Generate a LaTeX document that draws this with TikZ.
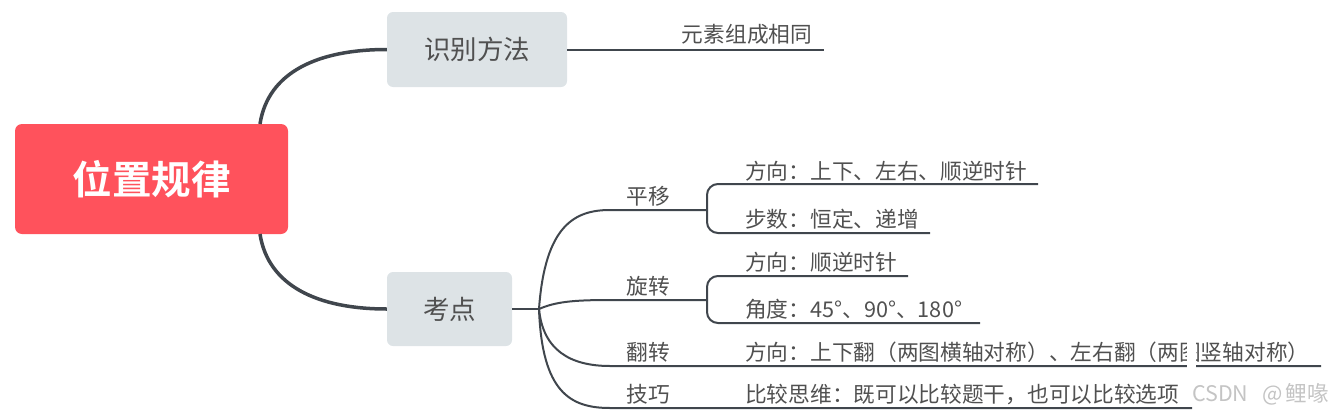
\documentclass[tikz,border=0pt]{standalone}
\usepackage{fontspec}
\setmainfont{Noto Sans CJK SC}[BoldFont={Noto Sans CJK SC Bold}]
\definecolor{rootred}{HTML}{FF525C}
\definecolor{boxgray}{HTML}{DDE3E6}
\definecolor{linegray}{HTML}{40464D}
\definecolor{txtgray}{HTML}{505050}
\definecolor{wmgray}{HTML}{C4C4C4}
\begin{document}
\begin{tikzpicture}[x=1pt,y=-1pt,
  rootbox/.style={fill=rootred, rounded corners=7pt, minimum width=273pt, minimum height=110pt, inner sep=0pt, text=white, font=\fontsize{39.5}{39.5}\selectfont\bfseries},
  topicbox/.style={fill=boxgray, rounded corners=6pt, inner sep=0pt, text=txtgray, font=\fontsize{26.5}{26.5}\selectfont},
  lbl/.style={inner sep=0pt, text=txtgray, font=\fontsize{21.7}{21.7}\selectfont},
  leaf/.style={lbl, anchor=west},
  mainline/.style={draw=linegray, line width=3.5pt},
  subline/.style={draw=linegray, line width=2pt},
  bracket/.style={subline, rounded corners=11pt},
  wmark/.style={inner sep=0pt, anchor=west, text=wmgray, font=\fontsize{21.5}{21.5}\selectfont}
  ]
\useasboundingbox (0,0) rectangle (1340,415);

% topic nodes
\node[rootbox] (root) at (151.5,179) {位置规律};
\node[topicbox, minimum width=180pt, minimum height=75pt] (shibie) at (477,49.5) {识别方法};
\node[topicbox, minimum width=125pt, minimum height=74pt] (kaodian) at (449.5,309) {考点};

% root connectors
\coordinate (r1) at (260,124);
\coordinate (r2) at (260,234);
\draw[mainline] (r1) .. controls (268,72) and (318,49.5) .. (shibie.west);
\draw[mainline] (r2) .. controls (268,286) and (318,309) .. (kaodian.west);

% 识别方法 branch
\node[lbl] (yuansu) at (747,34) {元素组成相同};
\coordinate (ysend) at (824,49.5);
\draw[subline] (shibie.east) -- (ysend);

% 考点 branch
\coordinate (j) at (539,309);
\draw[subline, line width=2.5pt] (kaodian.east) -- (j);

% children
\node[lbl] (pingyi) at (648.5,196) {平移};
\node[lbl] (xuanzhuan) at (648.5,286) {旋转};
\node[lbl] (fanzhuan) at (648.5,352) {翻转};
\node[lbl] (jiqiao) at (648.5,394) {技巧};

\coordinate (py) at (610,210);   \coordinate (pye) at (707,210);
\coordinate (xz) at (610,300);   \coordinate (xze) at (707,300);
\coordinate (fz) at (610,366);   \coordinate (fze) at (1321,366);
\coordinate (jq) at (610,408);   \coordinate (jqe) at (1192,408);

\draw[subline] (j) .. controls (545,225) and (575,210) .. (py) -- (pye);
\draw[subline] (j) .. controls (555,302) and (572,300) .. (xz) -- (xze);
\draw[subline] (j) .. controls (543,350) and (570,366) .. (fz) -- (fze);
\draw[subline] (j) .. controls (542,392) and (570,408) .. (jq) -- (jqe);

% grandchildren
\node[leaf] (py1) at (745,171) {方向：上下、左右、顺逆时针};
\node[leaf] (py2) at (745,219.5) {步数：恒定、递增};
\node[leaf] (xz1) at (745,262.5) {方向：顺逆时针};
\node[leaf] (xz2) at (745,309.5) {角度：45°、90°、180°};
\node[leaf] (fz1) at (745,352) {方向：上下翻（两图横轴对称）、左右翻（两图竖轴对称）};
\node[leaf] (jq1) at (745,394) {比较思维：既可以比较题干，也可以比较选项};

\coordinate (py1e) at (1038,184);
\coordinate (py2e) at (930,233);
\coordinate (xz1e) at (908,276);
\coordinate (xz2e) at (980,323);
\draw[bracket] (pye) |- (py1e);
\draw[bracket] (pye) |- (py2e);
\draw[bracket] (xze) |- (xz1e);
\draw[bracket] (xze) |- (xz2e);

% gap in the image
\fill[white] (1187,336) rectangle (1196,372);

% watermark
\node[wmark] (wm) at (1192,394) {CSDN\hspace{14pt}@\hspace{3pt}鲤喙};
\end{tikzpicture}
\end{document}
